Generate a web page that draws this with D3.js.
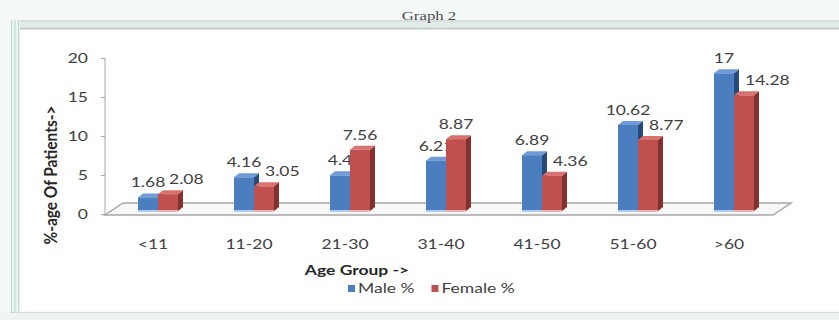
<!DOCTYPE html>
<html>
<head>
<meta charset="utf-8">
<script src="https://cdn.jsdelivr.net/npm/d3@7/dist/d3.min.js"></script>
<style>
  html, body { margin: 0; padding: 0; background: #ffffff; }
  svg { display: block; }
</style>
</head>
<body>
<svg id="chart" width="839" height="320"></svg>
<script>
// ---- data ----
const ageGroups = ["<11", "11-20", "21-30", "31-40", "41-50", "51-60", ">60"];
const malePct = [1.68, 4.16, 4.4, 6.21, 6.89, 10.62, 17];
const femalePct = [2.08, 3.05, 7.56, 8.87, 4.36, 8.77, 14.28];
const seriesNames = ["Male %", "Female %"];
const yTicks = [0, 5, 10, 15, 20];

// ---- look ----
const W = 839, H = 320;
const SX = 1.4;                      // the chart's lettering is set wide
const FONT = "Lato, 'Open Sans', sans-serif";
const palette = {
  male:   { front: "#4a7ebf", top: "#6f9bd6", side: "#28497a", foot: "#b3cdee" },
  female: { front: "#c0504d", top: "#d8726f", side: "#86302e", foot: "#eab4b2" }
};
const depth = { dx: 5, dy: -4 };     // oblique offset of the 3-D bars

const svg = d3.select("#chart");

// ---- frame around the chart object ----
svg.append("rect").attr("width", W).attr("height", H).attr("fill", "#f5faf9");
svg.append("rect").attr("x", 20).attr("y", 30).attr("width", W - 20).attr("height", 281).attr("fill", "#ffffff");
svg.append("rect").attr("x", 10).attr("y", 20).attr("width", W - 10).attr("height", 10).attr("fill", "#e3ebe8");
svg.append("line").attr("x1", 10).attr("x2", W).attr("y1", 21).attr("y2", 21).attr("stroke", "#cad4d1");
svg.append("line").attr("x1", 10).attr("x2", W).attr("y1", 28.5).attr("y2", 28.5).attr("stroke", "#c2ccc9").attr("stroke-width", 1.5);
svg.append("rect").attr("x", 10).attr("y", 20).attr("width", 10).attr("height", 292).attr("fill", "#eaf5f1");
[11.5, 18.5].forEach(x => svg.append("line").attr("x1", x).attr("x2", x).attr("y1", 20).attr("y2", 312).attr("stroke", "#c8d6d2"));
svg.append("line").attr("x1", 15).attr("x2", 15).attr("y1", 20).attr("y2", 312).attr("stroke", "#cbe9de").attr("stroke-width", 2);
svg.append("rect").attr("x", 0).attr("y", 312).attr("width", W).attr("height", 8).attr("fill", "#eef5f3");
svg.append("line").attr("x1", 10).attr("x2", W).attr("y1", 312.5).attr("y2", 312.5).attr("stroke", "#d2dad8");

// helper: horizontal text drawn with the wide letter set
function wideText(parent, x, y, str, o = {}) {
  return parent.append("text")
    .attr("transform", `translate(${x},${y}) scale(${o.sx || SX},1)`)
    .attr("text-anchor", o.anchor || "middle")
    .attr("font-family", o.family || FONT)
    .attr("font-size", o.size || 12.5)
    .attr("font-weight", o.weight || "normal")
    .attr("fill", o.fill || "#404040")
    .text(str);
}

wideText(svg, 429, 20, "Graph 2", { family: "'Liberation Serif', serif", size: 12, fill: "#4a4a4a" });

// ---- scales ----
const x = d3.scaleBand().domain(ageGroups).range([110, 782]).paddingInner(0).paddingOuter(0);
const series = d3.scaleBand().domain(seriesNames).range([0, 40]);
const groupInset = (x.bandwidth() - 40) / 2;
const yAxisScale = d3.scaleLinear().domain([0, 20]).range([214, 58]);
const yBar = d3.scaleLinear().domain([0, 20]).range([211, 49]);   // bars stand mid-way into the floor

// ---- floor ----
const floor = { x0: 105, x1: 773, yFront: 215, back: { dx: 18, dy: -12 } };
svg.append("polygon")
  .attr("points", [
    [floor.x0, floor.yFront], [floor.x1, floor.yFront],
    [floor.x1 + floor.back.dx, floor.yFront + floor.back.dy],
    [floor.x0 + floor.back.dx, floor.yFront + floor.back.dy]
  ].map(p => p.join(",")).join(" "))
  .attr("fill", "#f7f7f7").attr("stroke", "#a8a8a8").attr("stroke-width", 1.5);

// ---- value axis ----
const axisG = svg.append("g").attr("transform", "translate(105,0)");
axisG.call(d3.axisLeft(yAxisScale).tickValues(yTicks).tickSize(4).tickFormat(""));
axisG.select(".domain").attr("stroke", "#a6a6a6").attr("d", `M-0,${yAxisScale(20)}V${floor.yFront}`);
axisG.selectAll(".tick line").attr("stroke", "#a6a6a6");
yTicks.forEach(t => wideText(svg, 88, yAxisScale(t) + 4.5, String(t), { anchor: "end" }));

// axis title (rotated)
svg.append("text")
  .attr("transform", `translate(57,175) scale(${SX * 0.75},1) rotate(-90)`)
  .attr("text-anchor", "middle")
  .attr("font-family", FONT).attr("font-size", 15.5).attr("font-weight", "bold")
  .attr("fill", "#262626")
  .text("%-age Of Patients->");

// ---- 3-D column ----
function column(g, x0, w, v, col) {
  const yt = yBar(v), yb = yBar(0);
  const { dx, dy } = depth;
  g.append("polygon")   // right side
    .attr("points", [[x0 + w, yb], [x0 + w, yt], [x0 + w + dx, yt + dy], [x0 + w + dx, yb + dy]].map(p => p.join(",")).join(" "))
    .attr("fill", col.side);
  g.append("polygon")   // top
    .attr("points", [[x0, yt], [x0 + w, yt], [x0 + w + dx, yt + dy], [x0 + dx, yt + dy]].map(p => p.join(",")).join(" "))
    .attr("fill", col.top);
  g.append("rect")      // front
    .attr("x", x0).attr("y", yt).attr("width", w).attr("height", yb - yt)
    .attr("fill", col.front);
  g.append("rect")      // soft reflection at the foot
    .attr("x", x0).attr("y", yb - 1).attr("width", w).attr("height", 2)
    .attr("fill", col.foot);
}

const barsG = svg.append("g");
ageGroups.forEach((grp, i) => {
  const g = barsG.append("g");
  const bx = x(grp) + groupInset + series("Male %");
  const rx = x(grp) + groupInset + series("Female %");
  const w = series.bandwidth();
  const m = malePct[i], f = femalePct[i];

  column(g, bx, w, m, palette.male);
  wideText(g, bx + w / 2, yBar(m) - 10, String(m));

  column(g, rx, w, f, palette.female);
  // a female label that would land on the male one is pushed to the right
  const crowded = f < m + 1;
  wideText(g, crowded ? rx + w / 2 + 1 : rx + w / 2, yBar(f) - 10, String(f),
           { anchor: crowded ? "start" : "middle" });
});

// ---- category labels ----
ageGroups.forEach(grp => wideText(svg, x(grp) + x.bandwidth() / 2 - 5, 249, grp));

// ---- category axis title ----
wideText(svg, 357, 275, "Age Group ->", { weight: "bold", fill: "#262626" });

// ---- legend ----
const legendColors = [palette.male.front, palette.female.front];
let lx = 348;
seriesNames.forEach((name, k) => {
  svg.append("rect").attr("x", lx).attr("y", 285).attr("width", 7).attr("height", 7).attr("fill", legendColors[k]);
  const t = wideText(svg, lx + 10, 293, name, { anchor: "start" });
  lx += 10 + t.node().getComputedTextLength() * SX + 17;
});
</script>
</body>
</html>
